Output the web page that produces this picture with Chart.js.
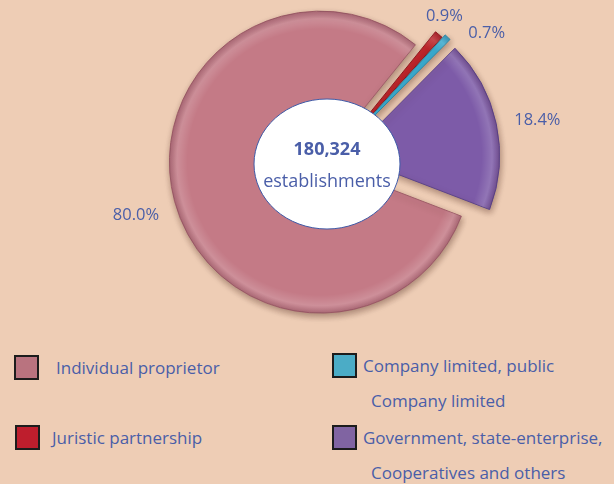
<!DOCTYPE html>
<html>
<head>
<meta charset="utf-8">
<script src="https://cdn.jsdelivr.net/npm/chart.js@4.4.1/dist/chart.umd.min.js"></script>
<style>
  html, body { margin: 0; padding: 0; background: #EECDB5; }
  #wrap { position: relative; width: 614px; height: 484px; overflow: hidden;
          font-family: "Open Sans", sans-serif; color: #4a5ea8; }
  #pie { position: absolute; left: 0; top: 0; width: 614px; height: 330px; }
  .sw { position: absolute; width: 21px; height: 21px; border: 2px solid #1c1c1c; }
  .lt { position: absolute; font-size: 17px; line-height: 35px; white-space: nowrap; }
  .lt span { display: block; }
  .lt span + span { padding-left: 8px; }
</style>
</head>
<body>
<div id="wrap">
  <div id="pie"><canvas id="c"></canvas></div>
  <div id="legend"></div>
</div>
<script>
// Establishments by legal organization
const categories = [
  'Individual proprietor',
  'Juristic partnership',
  ['Company limited, public', 'Company limited'],
  ['Government, state-enterprise,', 'Cooperatives and others']
];
const shares = [80.0, 0.9, 0.7, 18.4];          // percent of establishments
const totalEstablishments = 180324;
const totalCaption = 'establishments';

// styling
const sliceColors  = ['#C47A86', '#C0262C', '#38AED3', '#7D5BA8'];
const sliceEdges   = ['#9E5C68', '#8E1A1F', '#2A87A6', '#5C4389'];
const swatchColors = ['#B9737F', '#BE1E2D', '#4BACC6', '#8064A2'];
const textColor = '#4a5ea8';

// pulls each slice away from the centre by its own distance and adds a rim bevel + drop shadow
const explodePlugin = {
  id: 'explode',
  beforeDatasetDraw(chart, args, opts) {
    const ctx = chart.ctx;
    args.meta.data.forEach((arc, i) => {
      const mid = (arc.startAngle + arc.endAngle) / 2;
      const d = opts.distance[i] || 0;
      ctx.save();
      ctx.translate(Math.cos(mid) * d, Math.sin(mid) * d);
      ctx.save();
      ctx.shadowColor = 'rgba(70,35,25,0.4)';
      ctx.shadowBlur = 6;
      ctx.shadowOffsetX = 1;
      ctx.shadowOffsetY = 3;
      arc.draw(ctx);
      ctx.restore();
      ctx.beginPath();
      ctx.moveTo(arc.x, arc.y);
      ctx.arc(arc.x, arc.y, arc.outerRadius, arc.startAngle, arc.endAngle);
      ctx.closePath();
      ctx.clip();
      const g = ctx.createRadialGradient(arc.x, arc.y, 0, arc.x, arc.y, arc.outerRadius);
      g.addColorStop(0, 'rgba(255,255,255,0)');
      g.addColorStop(0.88, 'rgba(255,255,255,0)');
      g.addColorStop(0.95, 'rgba(255,255,255,0.16)');
      g.addColorStop(1, 'rgba(50,20,40,0.16)');
      ctx.fillStyle = g;
      ctx.fill();
      ctx.restore();
    });
    return false;
  }
};

// percentage labels outside the slices
const labelPlugin = {
  id: 'sliceLabels',
  afterDatasetsDraw(chart, args, opts) {
    const meta = chart.getDatasetMeta(0);
    const values = chart.data.datasets[0].data;
    const ctx = chart.ctx;
    ctx.save();
    ctx.font = opts.font;
    ctx.fillStyle = opts.color;
    ctx.textAlign = 'center';
    ctx.textBaseline = 'middle';
    meta.data.forEach((arc, i) => {
      const a = (arc.startAngle + arc.endAngle) / 2 + (opts.turn[i] || 0) * Math.PI / 180;
      const r = arc.outerRadius + opts.gap[i];
      ctx.fillText(values[i].toFixed(1) + '%', arc.x + Math.cos(a) * r, arc.y + Math.sin(a) * r);
    });
    ctx.restore();
  }
};

// white oval in the middle with the total
const hubPlugin = {
  id: 'hub',
  afterDatasetsDraw(chart, args, opts) {
    const arc = chart.getDatasetMeta(0).data[0];
    const ctx = chart.ctx;
    const cx = arc.x + opts.shiftX, cy = arc.y + opts.shiftY;
    ctx.save();
    ctx.beginPath();
    ctx.ellipse(cx, cy, opts.rx, opts.ry, 0, 0, Math.PI * 2);
    ctx.fillStyle = '#ffffff';
    ctx.fill();
    ctx.lineWidth = 1;
    ctx.strokeStyle = '#3f5ba8';
    ctx.stroke();
    ctx.fillStyle = opts.color;
    ctx.textAlign = 'center';
    ctx.textBaseline = 'middle';
    ctx.font = 'bold 18px "Open Sans", sans-serif';
    ctx.fillText(totalEstablishments.toLocaleString('en-US'), cx, cy - 14);
    ctx.font = '18px "Open Sans", sans-serif';
    ctx.fillText(totalCaption, cx, cy + 18);
    ctx.restore();
  }
};

new Chart(document.getElementById('c'), {
  type: 'pie',
  data: {
    labels: categories,
    datasets: [{
      data: shares,
      backgroundColor: sliceColors,
      borderColor: sliceEdges,
      borderWidth: 1
    }]
  },
  options: {
    responsive: true,
    maintainAspectRatio: false,
    animation: false,
    rotation: 111,
    radius: 151,
    layout: { padding: { left: 50, right: 0, top: 0, bottom: 12 } },
    events: [],
    plugins: {
      legend: { display: false },
      tooltip: { enabled: false },
      explode: { distance: [12, 13, 17, 17] },
      sliceLabels: {
        font: '16.5px "Open Sans", sans-serif',
        color: textColor,
        gap: [53, 31, 48, 58],
        turn: [-1, -2.5, 7.5, 1.4]
      },
      hub: { shiftX: -5, shiftY: 5, rx: 73, ry: 65, color: textColor }
    }
  },
  plugins: [explodePlugin, labelPlugin, hubPlugin]
});

// two-column legend under the pie
const legendSwatchPos = [[14, 355], [15, 425], [332, 353], [332, 425]];
const legendTextLeft = [56, 52, 363, 363];
const legendEl = document.getElementById('legend');
categories.forEach((cat, i) => {
  const [sx, sy] = legendSwatchPos[i];
  const sw = document.createElement('div');
  sw.className = 'sw';
  sw.style.left = sx + 'px';
  sw.style.top = sy + 'px';
  sw.style.background = swatchColors[i];
  legendEl.appendChild(sw);
  const lt = document.createElement('div');
  lt.className = 'lt';
  lt.style.left = legendTextLeft[i] + 'px';
  lt.style.top = (sy - 5) + 'px';
  (Array.isArray(cat) ? cat : [cat]).forEach(line => {
    const s = document.createElement('span');
    s.textContent = line;
    lt.appendChild(s);
  });
  legendEl.appendChild(lt);
});
</script>
</body>
</html>
